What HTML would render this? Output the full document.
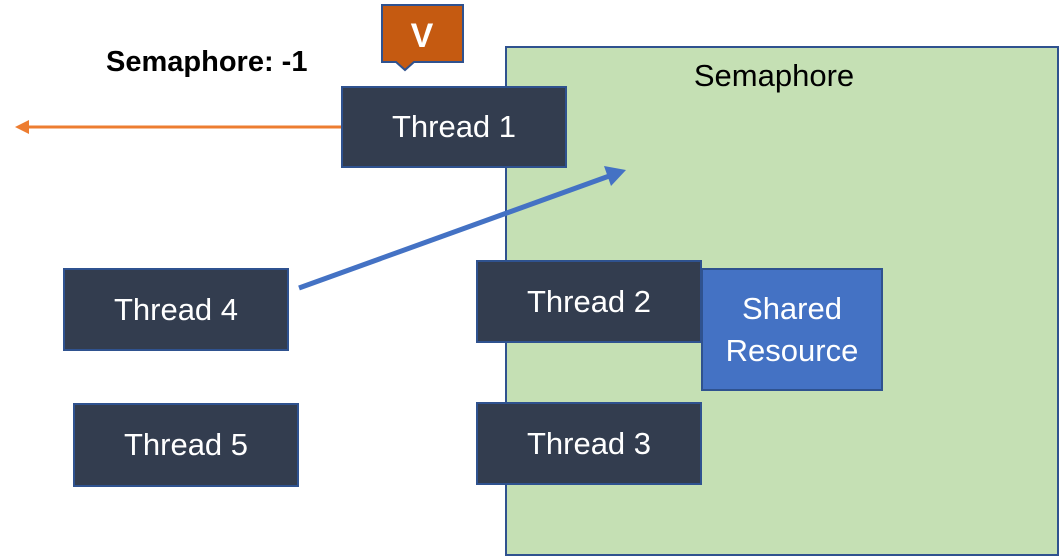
<!DOCTYPE html>
<html><head><style>
body{margin:0;width:1062px;height:558px;background:#fff;position:relative;overflow:hidden;font-family:"Liberation Sans",sans-serif}
.b{position:absolute;box-sizing:border-box;display:flex;align-items:center;justify-content:center;text-align:center}
.t{background:#333d4f;border:2px solid #2f528f;color:#fff;font-size:31px}
</style></head><body>
<div class="b" style="left:505px;top:46px;width:554px;height:510px;background:#c5e0b4;border:2px solid #2f528f;align-items:flex-start;padding-top:10px;padding-right:16px;font-size:31px;color:#000">Semaphore</div>
<div class="b" style="left:106px;top:46px;font-weight:bold;font-size:29px;color:#000">Semaphore: -1</div>
<div class="b t" style="left:341px;top:86px;width:226px;height:82px">Thread 1</div>
<div class="b t" style="left:63px;top:268px;width:226px;height:83px">Thread 4</div>
<div class="b t" style="left:73px;top:403px;width:226px;height:84px">Thread 5</div>
<div class="b t" style="left:476px;top:260px;width:226px;height:83px">Thread 2</div>
<div class="b t" style="left:476px;top:402px;width:226px;height:83px">Thread 3</div>
<div class="b" style="left:701px;top:268px;width:182px;height:123px;background:#4472c4;border:2px solid #2f528f;color:#fff;font-size:31px;line-height:42px">Shared<br>Resource</div>
<svg width="1062" height="558" style="position:absolute;left:0;top:0">
<polygon points="382,5 463,5 463,62 414,62 405,70 396,62 382,62" fill="#c55a11" stroke="#2f528f" stroke-width="2"/>
<text x="422" y="47" font-size="34" font-weight="bold" fill="#fff" text-anchor="middle" font-family="Liberation Sans">V</text>
<line x1="341" y1="127" x2="26" y2="127" stroke="#ed7d31" stroke-width="3"/>
<polygon points="15,127 29,120 29,134" fill="#ed7d31"/>
<line x1="299" y1="288" x2="612" y2="175" stroke="#4472c4" stroke-width="5"/>
<polygon points="626,170 604,166 611,186" fill="#4472c4"/>
</svg>
</body></html>
